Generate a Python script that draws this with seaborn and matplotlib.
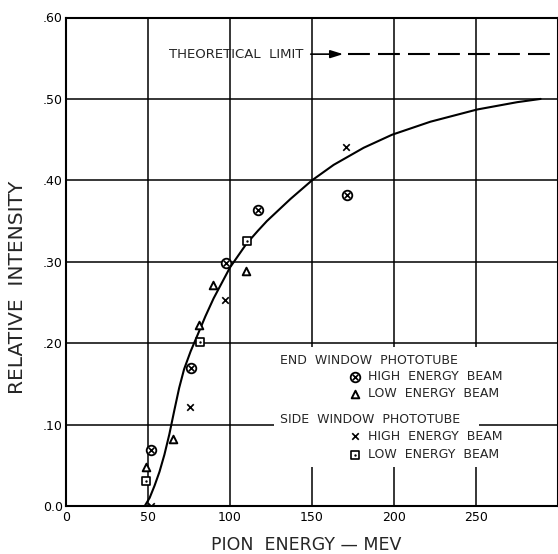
import matplotlib
matplotlib.use("Agg")
import matplotlib.pyplot as plt
from matplotlib.patches import Rectangle
import seaborn as sns

# Style: plain white, black lettering
sns.set_style("white")
plt.rcParams["font.family"] = ["DejaVu Sans"]

# Smooth curve drawn through the data
curve_mev = [48, 51, 54, 57, 60, 63, 66, 69, 72, 76, 80, 85, 90, 100, 110, 117,
             122.5, 136.8, 150.0, 163.2, 181.5, 198.8, 222.2, 250.7, 275.1, 289.4]
curve_int = [0.0, 0.010, 0.025, 0.042, 0.063, 0.088, 0.117, 0.145, 0.168, 0.190,
             0.209, 0.233, 0.255, 0.293, 0.322, 0.338, 0.350, 0.377, 0.400, 0.419,
             0.440, 0.456, 0.472, 0.487, 0.496, 0.500]

# End window phototube
end_high_mev = [52, 76, 97.5, 117, 171.5]
end_high_int = [0.069, 0.169, 0.299, 0.363, 0.382]
end_low_mev = [49, 65.5, 81.4, 89.6, 109.9]
end_low_int = [0.0475, 0.082, 0.222, 0.271, 0.289]

# Side window phototube
side_high_mev = [52, 75.7, 97.2, 171]
side_high_int = [0.0, 0.121, 0.253, 0.441]
side_low_mev = [49, 81.8, 110.3]
side_low_int = [0.031, 0.201, 0.325]

theoretical_limit = 0.555

x_ticks = [0, 50, 100, 150, 200, 250, 300]
x_labels = ["0", "50", "100", "150", "200", "250", ""]
y_ticks = [0.0, 0.1, 0.2, 0.3, 0.4, 0.5, 0.6]
y_labels = ["0.0", ".10", ".20", ".30", ".40", ".50", ".60"]

fig = plt.figure(figsize=(5.58, 5.54), dpi=100)
ax = fig.add_axes([66 / 558, 48 / 554, 492 / 558, 488.5 / 554])


def draw_marker(kind, xs, ys):
    # each symbol is built from seaborn scatter layers
    if kind == "circle_x":
        sns.scatterplot(x=xs, y=ys, ax=ax, marker="o", s=48, color="white",
                        edgecolor="black", linewidth=1.3, zorder=5)
        sns.scatterplot(x=xs, y=ys, ax=ax, marker="x", s=16, color="black",
                        linewidth=1.2, zorder=6)
    elif kind == "triangle":
        sns.scatterplot(x=xs, y=ys, ax=ax, marker="^", s=30, color="white",
                        edgecolor="black", linewidth=1.4, zorder=5)
    elif kind == "cross":
        sns.scatterplot(x=xs, y=ys, ax=ax, marker="x", s=22, color="black",
                        linewidth=1.2, zorder=5)
    elif kind == "square":
        sns.scatterplot(x=xs, y=ys, ax=ax, marker="s", s=34, color="white",
                        edgecolor="black", linewidth=1.2, zorder=5)
        sns.scatterplot(x=xs, y=ys, ax=ax, marker="o", s=3, color="black",
                        linewidth=0, zorder=6)


sns.lineplot(x=curve_mev, y=curve_int, ax=ax, sort=False, estimator=None,
             color="black", linewidth=1.5, zorder=4)

draw_marker("circle_x", end_high_mev, end_high_int)
draw_marker("triangle", end_low_mev, end_low_int)
draw_marker("cross", side_high_mev, side_high_int)
draw_marker("square", side_low_mev, side_low_int)

# Theoretical limit: arrow plus dashed line
ax.plot([172, 300], [theoretical_limit, theoretical_limit], color="black",
        linewidth=1.5, dashes=(10.5, 3.9), zorder=4)
ax.annotate("THEORETICAL  LIMIT", xy=(169, theoretical_limit),
            xytext=(144.7, theoretical_limit), ha="right", va="center",
            fontsize=9.5,
            arrowprops=dict(arrowstyle="-|>,head_length=0.8,head_width=0.25",
                            color="black", lw=1.2, shrinkA=3, shrinkB=0))

# Hand-lettered key; a white patch breaks the grid behind it
ax.add_patch(Rectangle((127, 0.048), 125, 0.147, facecolor="white",
                       edgecolor="none", zorder=2))
head_box = dict(facecolor="white", edgecolor="none", pad=4)
row_box = dict(facecolor="white", edgecolor="none", pad=2)
ax.text(130.6, 0.179, "END  WINDOW  PHOTOTUBE", fontsize=9, ha="left",
        va="center", bbox=head_box, zorder=3)
ax.text(130.6, 0.106, "SIDE  WINDOW  PHOTOTUBE", fontsize=9, ha="left",
        va="center", bbox=head_box, zorder=3)
key_rows = [("circle_x", 0.159), ("triangle", 0.138), ("cross", 0.0856), ("square", 0.0627)]
key_text = ["HIGH  ENERGY  BEAM", "LOW  ENERGY  BEAM", "HIGH  ENERGY  BEAM", "LOW  ENERGY  BEAM"]
for (kind, yk), label in zip(key_rows, key_text):
    draw_marker(kind, [176.5], [yk])
    ax.text(184.4, yk, label, fontsize=9, ha="left", va="center", bbox=row_box, zorder=3)

ax.set_xlim(0, 300)
ax.set_ylim(0, 0.6)
ax.set_xticks(x_ticks)
ax.set_xticklabels(x_labels)
ax.set_yticks(y_ticks)
ax.set_yticklabels(y_labels)
ax.tick_params(axis="both", length=0, labelsize=9, colors="black")
ax.tick_params(axis="x", pad=3.3)
ax.tick_params(axis="y", pad=2.2)

ax.grid(True, color="black", linewidth=1.1)
ax.set_axisbelow(True)
for sp in ax.spines.values():
    sp.set_color("black")
    sp.set_linewidth(1.5)

ax.set_xlabel("PION  ENERGY — MEV", fontsize=12.5)
ax.set_ylabel("RELATIVE  INTENSITY", fontsize=14.5)
ax.xaxis.set_label_coords(0.488, -0.061)
ax.yaxis.set_label_coords(-0.080, 0.448)

fig.savefig("out.png", dpi=100)
